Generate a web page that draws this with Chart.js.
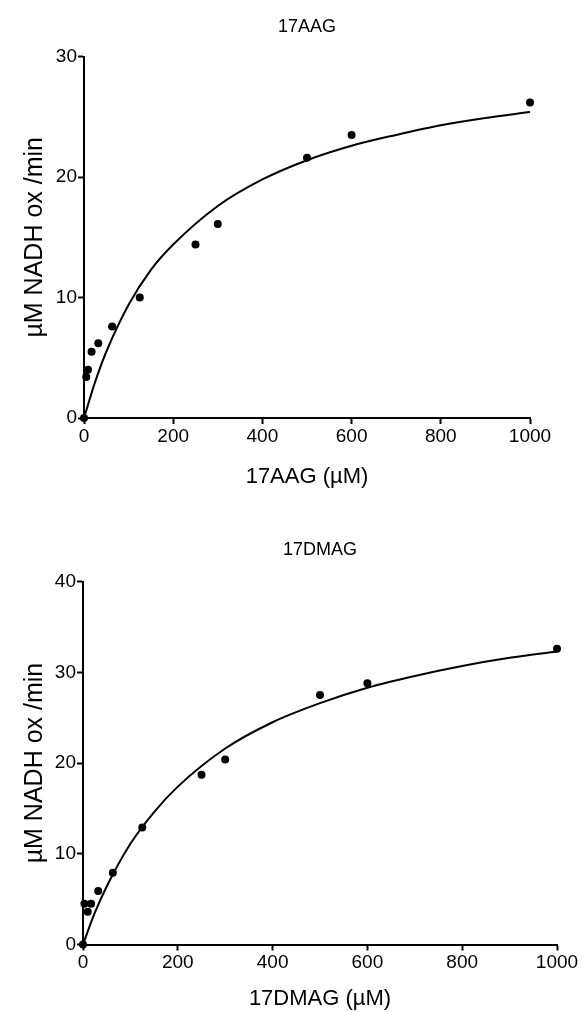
<!DOCTYPE html>
<html>
<head>
<meta charset="utf-8">
<script src="https://cdn.jsdelivr.net/npm/chart.js@4"></script>
<style>
  body { margin: 0; background: #fff; }
  canvas { display: block; }
</style>
</head>
<body>
<canvas id="chart-aag" width="582" height="505"></canvas>
<canvas id="chart-dmag" width="582" height="507"></canvas>
<script>
// measured points
var concAAG = [0, 5, 9, 17, 32, 63, 125, 250, 300, 500, 600, 1000];
var rateAAG = [0, 3.4, 4.0, 5.5, 6.2, 7.6, 10.0, 14.4, 16.1, 21.6, 23.5, 26.2];
var concDMAG = [0, 3, 10, 17, 32, 63, 125, 250, 300, 500, 600, 1000];
var rateDMAG = [0, 4.5, 3.6, 4.5, 5.9, 7.9, 12.9, 18.7, 20.4, 27.5, 28.8, 32.6];

// fitted curves
var fitX = [0, 25, 50, 100, 150, 200, 300, 400, 500, 600, 700, 800, 900, 1000];
var fitAAG = [0, 3.0, 5.5, 9.4, 12.3, 14.4, 17.6, 19.8, 21.4, 22.6, 23.5, 24.3, 24.9, 25.4];
var fitDMAG = [0, 3.5, 6.4, 11.1, 14.6, 17.4, 21.6, 24.5, 26.6, 28.3, 29.6, 30.7, 31.6, 32.3];

var xTicks = [0, 200, 400, 600, 800, 1000];
var yMaxAAG = 30;
var yMaxDMAG = 40;

var FONT = "'Liberation Sans', Arial, sans-serif";

function toXY(xs, ys) {
  return xs.map(function(x, i) { return {x: x, y: ys[i]}; });
}

function makeChart(id, opt) {
  var ctx = document.getElementById(id).getContext('2d');
  return new Chart(ctx, {
    type: 'scatter',
    data: {
      datasets: [{
        label: 'fit',
        data: toXY(fitX, opt.fit),
        showLine: true,
        borderColor: '#000',
        borderWidth: 2,
        pointRadius: 0,
        cubicInterpolationMode: 'monotone',
        fill: false,
        clip: false
      }, {
        label: 'data',
        data: toXY(opt.conc, opt.rate),
        pointRadius: 4,
        pointBackgroundColor: '#000',
        pointBorderWidth: 0,
        showLine: false,
        clip: false
      }]
    },
    options: {
      responsive: false,
      animation: false,
      layout: { padding: { left: 0, right: opt.padRight, top: 0, bottom: 0 } },
      scales: {
        x: {
          type: 'linear',
          min: 0,
          max: 1000,
          afterBuildTicks: function(scale) {
            scale.ticks = xTicks.map(function(v) { return {value: v}; });
          },
          afterFit: function(scale) { scale.height = opt.xHeight; },
          border: { display: true, color: '#000', width: 2 },
          grid: { drawOnChartArea: false, drawTicks: true, tickLength: 6, tickWidth: 2, tickColor: '#000' },
          ticks: {
            color: '#000', font: { family: FONT, size: 19 }, padding: 1, maxRotation: 0,
            callback: function(v) { return String(v); }
          },
          title: {
            display: true,
            text: opt.xTitle,
            color: '#000',
            font: { family: FONT, size: 22 },
            padding: { top: 0, bottom: opt.xTitlePad }
          }
        },
        y: {
          min: 0,
          max: opt.yMax,
          afterFit: function(scale) { scale.width = opt.yWidth; },
          border: { display: true, color: '#000', width: 2 },
          grid: { drawOnChartArea: false, drawTicks: true, tickLength: 6, tickWidth: 2, tickColor: '#000' },
          ticks: { stepSize: 10, color: '#000', font: { family: FONT, size: 19 }, padding: 1 },
          title: {
            display: true,
            text: 'µM NADH ox /min',
            color: '#000',
            font: { family: FONT, size: 25 },
            padding: { top: 20, bottom: 0 }
          }
        }
      },
      plugins: {
        legend: { display: false },
        tooltip: { enabled: false },
        title: {
          display: true,
          text: opt.title,
          fullSize: false,
          color: '#000',
          font: { family: FONT, size: 18, weight: 'normal' },
          padding: { top: opt.titleTop, bottom: opt.titleBottom }
        }
      }
    }
  });
}

makeChart('chart-aag', {
  title: '17AAG', xTitle: '17AAG (µM)',
  conc: concAAG, rate: rateAAG, fit: fitAAG, yMax: yMaxAAG,
  padRight: 52, yWidth: 84, xHeight: 87, xTitlePad: 15,
  titleTop: 16, titleBottom: 19
});

makeChart('chart-dmag', {
  title: '17DMAG', xTitle: '17DMAG (µM)',
  conc: concDMAG, rate: rateDMAG, fit: fitDMAG, yMax: yMaxDMAG,
  padRight: 25, yWidth: 83, xHeight: 67.5, xTitlePad: 0,
  titleTop: 34, titleBottom: 21
});
</script>
</body>
</html>
